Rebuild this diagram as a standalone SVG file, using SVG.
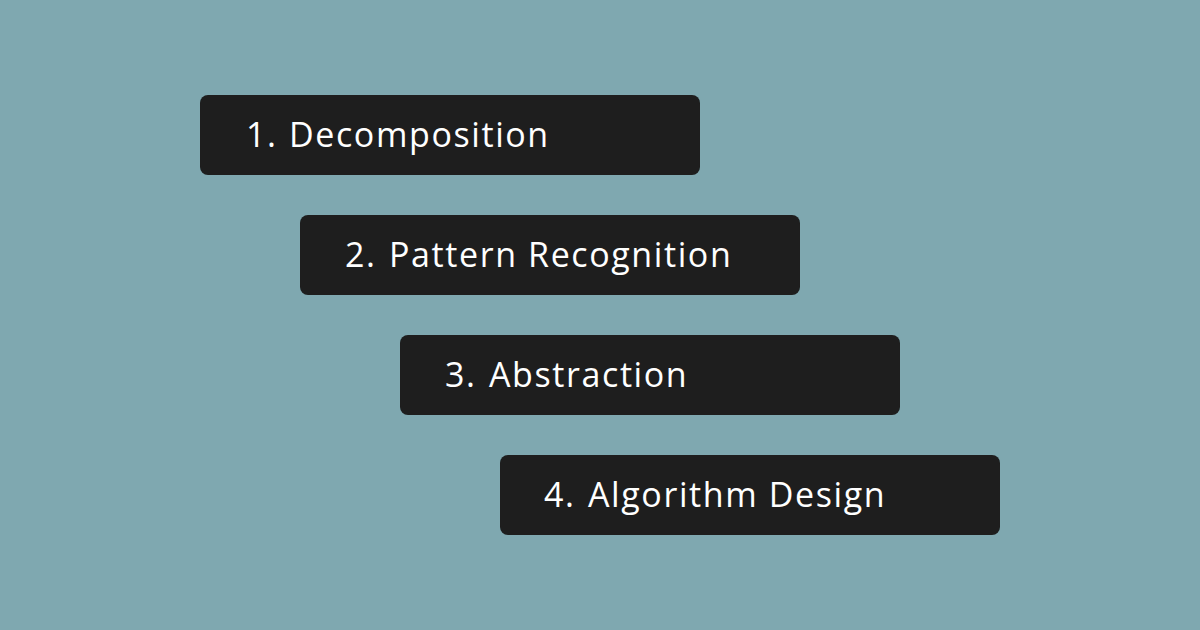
<svg xmlns="http://www.w3.org/2000/svg" width="1200" height="630" viewBox="0 0 1200 630">
<style>
.box{fill:#1e1e1e}
.t{font-family:"Open Sans","Noto Sans",sans-serif;font-size:34px;letter-spacing:1.6px;fill:#ffffff}
</style>
<rect width="1200" height="630" fill="#7fa8b0"/>
<g id="node1"><rect class="box" x="200" y="95" width="500" height="80" rx="8"/><text class="t" x="246" y="147">1.</text><text class="t" x="289" y="147">Decomposition</text></g>
<g id="node2"><rect class="box" x="300" y="215" width="500" height="80" rx="8"/><text class="t" x="345" y="267">2.</text><text class="t" x="389" y="267">Pattern Recognition</text></g>
<g id="node3"><rect class="box" x="400" y="335" width="500" height="80" rx="8"/><text class="t" x="445" y="387">3.</text><text class="t" x="489" y="387">Abstraction</text></g>
<g id="node4"><rect class="box" x="500" y="455" width="500" height="80" rx="8"/><text class="t" x="544" y="507">4.</text><text class="t" x="588" y="507">Algorithm Design</text></g>
<g id="connectors"/>
</svg>
